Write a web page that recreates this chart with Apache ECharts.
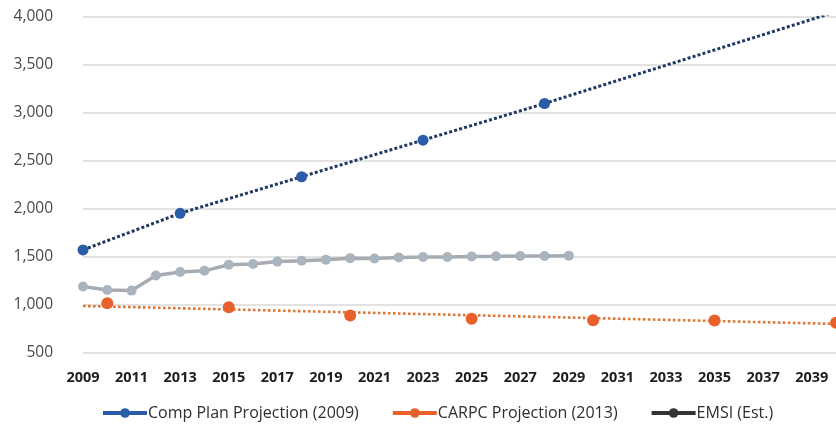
<!DOCTYPE html>
<html><head><meta charset="utf-8">
<script src="https://cdn.jsdelivr.net/npm/echarts@6/dist/echarts.min.js"></script>
<style>html,body{margin:0;padding:0;background:#fff}#c{width:836px;height:427px}</style>
</head><body><div id="c"></div>
<script>
const years = [];
for (let y = 2009; y <= 2040; y++) years.push(String(y));

// Comp Plan Projection (2009): marked points, dotted line continues to 2040
const compPlanYears = ['2009', '2013', '2018', '2023', '2028'];
const compPlanValues = [1574, 1955, 2336, 2717, 3099];
const compPlanEnd = ['2040', 4055];

// CARPC Projection (2013): marked points + dotted trend
const carpcYears = ['2010', '2015', '2020', '2025', '2030', '2035', '2040'];
const carpcValues = [1018, 976, 890, 857, 840, 838, 815];
const carpcTrend = [['2009', 990], ['2040', 803]];

// EMSI (Est.)
const emsiYears = ['2009','2010','2011','2012','2013','2014','2015','2016','2017','2018','2019','2020','2021','2022','2023','2024','2025','2026','2027','2028','2029'];
const emsiValues = [1192, 1157, 1150, 1307, 1343, 1356, 1419, 1427, 1452, 1461, 1472, 1488, 1485, 1496, 1500, 1500, 1506, 1507, 1510, 1510, 1514];

const yTicks = { min: 500, max: 4000, interval: 500 };

const pair = (xs, vs) => xs.map((x, i) => [x, vs[i]]);

const FONT = 'Open Sans';
const compData = pair(compPlanYears, compPlanValues);
compData.push({ value: compPlanEnd, symbol: 'none' });

const chart = echarts.init(document.getElementById('c'));
chart.setOption({
  animation: false,
  textStyle: { fontFamily: FONT },
  grid: { left: 83, right: -5, top: 17, bottom: 74 },
  xAxis: {
    type: 'category', data: years, boundaryGap: false,
    axisLine: { show: false }, axisTick: { show: false },
    axisLabel: { interval: 1, color: '#1e1e1e', fontSize: 14.5, fontWeight: 'bold', margin: 17, fontFamily: FONT }
  },
  yAxis: {
    type: 'value', min: yTicks.min, max: yTicks.max, interval: yTicks.interval,
    axisLine: { show: false }, axisTick: { show: false },
    axisLabel: { color: '#4a4a4a', fontSize: 15.5, margin: 30, fontFamily: FONT,
      formatter: v => v.toLocaleString('en-US') },
    splitLine: { lineStyle: { color: '#d9d9d9', width: 1.5 } }
  },
  legend: {
    top: 400, left: 96, itemWidth: 44, itemHeight: 12, itemGap: 32,
    textStyle: { color: '#2e2e2e', fontSize: 16, fontFamily: FONT, padding: [0, 0, 0, -4] },
    data: [
      { name: 'Comp Plan Projection (2009)', itemStyle: { color: '#2a5ca8' }, lineStyle: { color: '#2a5ca8', width: 4, type: 'solid', opacity: 1 } },
      { name: 'CARPC Projection (2013)', itemStyle: { color: '#e8602a' }, lineStyle: { color: '#e8602a', width: 4, type: 'solid', opacity: 1 } },
      { name: 'EMSI (Est.)', itemStyle: { color: '#333' }, lineStyle: { color: '#333', width: 4, type: 'solid', opacity: 1 } }
    ]
  },
  series: [
    { name: 'carpcTrend', type: 'line', data: carpcTrend, symbol: 'none', silent: true,
      lineStyle: { color: '#de7634', width: 2.6, type: [2.6, 2.4] }, z: 2 },
    { name: 'EMSI (Est.)', type: 'line', data: pair(emsiYears, emsiValues),
      symbol: 'circle', symbolSize: 10,
      itemStyle: { color: '#a9b4bf' },
      lineStyle: { color: '#a8acb0', width: 3.5 }, z: 3 },
    { name: 'Comp Plan Projection (2009)', type: 'line', data: compData,
      symbol: 'circle', symbolSize: 11,
      itemStyle: { color: '#2a5ca8' },
      lineStyle: { color: '#203864', width: 3, type: [3, 2.2] }, z: 4 },
    { name: 'CARPC Projection (2013)', type: 'line', data: pair(carpcYears, carpcValues),
      symbol: 'circle', symbolSize: 12,
      itemStyle: { color: '#e8602a' },
      lineStyle: { opacity: 0 }, z: 4 }
  ]
});
</script></body></html>
